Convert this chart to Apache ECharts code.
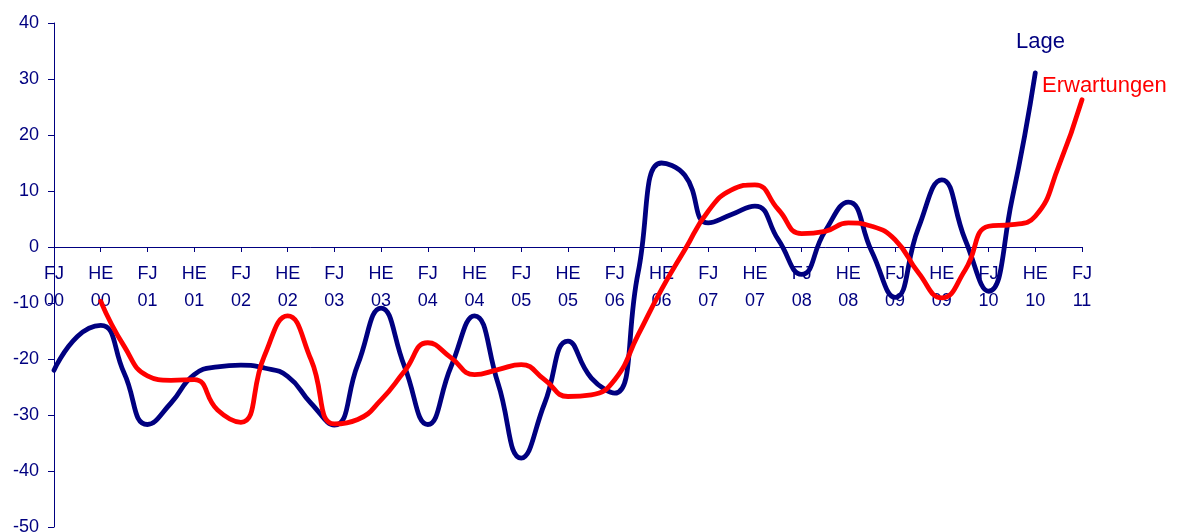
<!DOCTYPE html>
<html>
<head>
<meta charset="utf-8">
<script src="https://cdn.jsdelivr.net/npm/echarts@6/dist/echarts.min.js"></script>
<style>
html,body{margin:0;padding:0;background:#fff;}
#chart{width:1177px;height:532px;}
</style>
</head>
<body>
<div id="chart"></div>
<script>
// Tick labels (half-year survey waves), one per tick
var tickLabels = ['FJ\n00','HE\n00','FJ\n01','HE\n01','FJ\n02','HE\n02','FJ\n03','HE\n03',
  'FJ\n04','HE\n04','FJ\n05','HE\n05','FJ\n06','HE\n06','FJ\n07','HE\n07','FJ\n08','HE\n08',
  'FJ\n09','HE\n09','FJ\n10','HE\n10','FJ\n11'];

// Quarter-step categories: each tick label followed by an unlabelled intermediate step
var categories = [];
tickLabels.forEach(function (t, i) {
  categories.push(t);
  if (i < tickLabels.length - 1) categories.push('');
});

// Lage (read at quarter steps, FJ00 .. HE10)
var lage = [-22, -16, -14, -22.5, -31.7, -27.9, -22.8, -21.4, -21.1, -21.6, -23.1, -27.9,
  -31.8, -21, -10.9, -21.3, -31.7, -21.3, -12.3, -24.3, -37.7, -27.9, -16.8, -23.4,
  -26.1, -4.6, 15.0, 12.8, 4.3, 5.8, 7.3, 1.3, -4.9, 2.8, 8.0, -0.8, -9.0, 3.4,
  12.0, 1.3, -7.9, 8.4, 31.1];

// Erwartungen (read at quarter steps, HE00 .. FJ11)
var erwartungen = [null, null, -9.7, -17.7, -23.0, -23.8, -23.7, -29.1, -31.3, -19.5, -12.3,
  -20.1, -31.6, -30.8, -27.3, -22.2, -17.1, -19.8, -22.8, -21.9, -21.0, -23.7, -26.7,
  -26.4, -23.7, -15.7, -7.6, -0.5, 6.4, 10.2, 11.1, 6.7, 2.4, 2.8, 4.3, 3.7, 1.3,
  -4.6, -9.1, -4.1, 3.7, 4.0, 5.5, 14.4, 26.3];

var NAVY = '#000080';
var RED = '#ff0000';
var FONT = '"Liberation Sans", Arial, sans-serif';

var chart = echarts.init(document.getElementById('chart'));
chart.setOption({
  animation: false,
  backgroundColor: '#ffffff',
  grid: { left: 54, right: 95, top: 23, bottom: 5, containLabel: false, outerBoundsMode: 'none' },
  xAxis: {
    type: 'category',
    data: categories,
    boundaryGap: false,
    offset: 0,
    axisLine: { onZero: false, lineStyle: { color: NAVY, width: 1 } },
    axisTick: { show: true, length: 5, interval: function (i) { return i % 2 === 0; },
      lineStyle: { color: NAVY } },
    axisLabel: {
      interval: function (i) { return i % 2 === 0; },
      color: NAVY, fontFamily: FONT, fontSize: 18, lineHeight: 27, margin: 14
    },
    splitLine: { show: false }
  },
  yAxis: {
    type: 'value',
    min: -50, max: 40, interval: 10,
    axisLine: { show: true, lineStyle: { color: NAVY, width: 1 } },
    axisTick: { show: true, length: 6, lineStyle: { color: NAVY } },
    axisLabel: { color: NAVY, fontFamily: FONT, fontSize: 18, margin: 15 },
    splitLine: { show: false }
  },
  series: [
    {
      name: 'Lage', type: 'line', data: lage, smooth: 0.5,
      showSymbol: false, symbol: 'none',
      lineStyle: { color: NAVY, width: 4.8, cap: 'round', join: 'round' },
      itemStyle: { color: NAVY }
    },
    {
      name: 'Erwartungen', type: 'line', data: erwartungen, smooth: 0.5,
      showSymbol: false, symbol: 'none', connectNulls: false,
      lineStyle: { color: RED, width: 4.8, cap: 'round', join: 'round' },
      itemStyle: { color: RED }
    }
  ],
  graphic: [
    { type: 'text', left: 1016, top: 31,
      style: { text: 'Lage', fill: NAVY, font: '22px ' + FONT } },
    { type: 'text', left: 1042, top: 75,
      style: { text: 'Erwartungen', fill: RED, font: '22px ' + FONT } }
  ]
});
// Move the category axis (line, ticks and labels) up to the zero line
var zeroY = chart.convertToPixel({ yAxisIndex: 0 }, 0);
var bottomY = chart.convertToPixel({ yAxisIndex: 0 }, -50);
chart.setOption({ xAxis: { offset: zeroY - bottomY } });
</script>
</body>
</html>
